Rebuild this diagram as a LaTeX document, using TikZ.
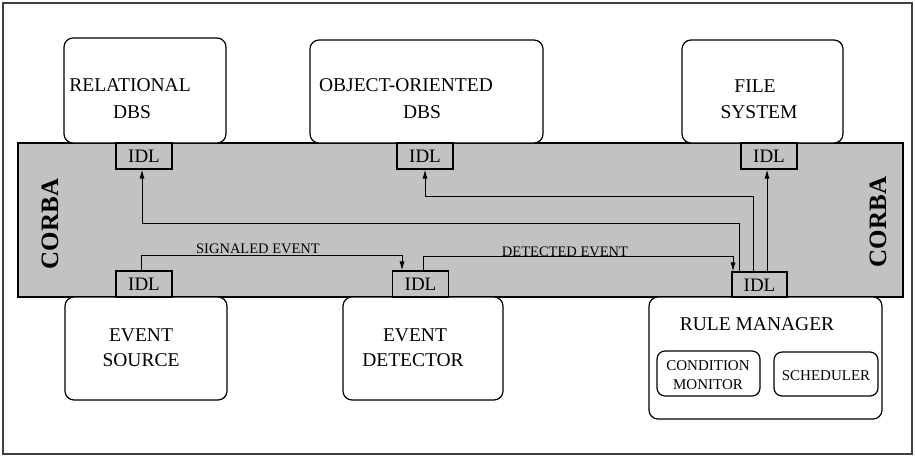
\documentclass[tikz,border=0pt]{standalone}
\usepackage{fontspec}
\setmainfont{Liberation Serif}
\usetikzlibrary{arrows.meta,calc}
\begin{document}
\begin{tikzpicture}[x=1pt,y=-1pt,
  box/.style={draw, line width=1.2pt, rounded corners=9pt, fill=white, inner sep=0pt},
  inbox/.style={draw, line width=1.2pt, rounded corners=8pt, inner sep=0pt},
  idlbox/.style={draw, line width=1.1pt, minimum width=56pt, minimum height=26pt, inner sep=0pt,
     text height=13pt, text depth=0pt, font=\fontsize{19}{21}\selectfont},
  lbl/.style={font=\fontsize{19.5}{21}\selectfont, anchor=base, inner sep=0pt},
  small/.style={font=\fontsize{15}{17}\selectfont, anchor=base, inner sep=0pt},
  evt/.style={font=\fontsize{14.5}{16}\selectfont, anchor=base, inner sep=0pt},
  arr/.style={line width=1pt, -{Latex[length=9pt,width=5pt]}},
  corba/.style={font=\fontsize{25}{27}\bfseries\selectfont, rotate=90, inner sep=0pt}
]
\useasboundingbox (0,0) rectangle (915,456);
% outer frame
\draw[line width=1.2pt, black!75] (3,3) rectangle (912,454);
% CORBA band
\node[draw, line width=1.1pt, fill=black!24, minimum width=885pt, minimum height=154pt, inner sep=0pt] (band) at (460.5,220) {};
\node[corba] (corbaL) at (50,224) {CORBA};
\node[corba] (corbaR) at (878,222) {CORBA};

% top boxes
\node[box, minimum width=162pt, minimum height=105pt] (relbox) at (145,90.5) {};
\node[box, minimum width=233pt, minimum height=103pt] (oobox) at (426.5,91.5) {};
\node[box, minimum width=161pt, minimum height=103pt] (fsbox) at (762.5,91.5) {};
\node[lbl] (t1) at (130,91) {RELATIONAL};
\node[lbl] (t2) at (132,118) {DBS};
\node[lbl] (t3) at (406,91) {OBJECT-ORIENTED};
\node[lbl] (t4) at (422,118) {DBS};
\node[lbl] (t5) at (755,92) {FILE};
\node[lbl] (t6) at (759,118) {SYSTEM};

% bottom boxes
\node[box, minimum width=162pt, minimum height=103pt] (srcbox) at (146,348.5) {};
\node[box, minimum width=160pt, minimum height=103pt] (detbox) at (423,348.5) {};
\node[box, minimum width=233pt, minimum height=122pt] (rmbox) at (765.5,358) {};
\node[lbl] (t7) at (141,341) {EVENT};
\node[lbl] (t8) at (141,366) {SOURCE};
\node[lbl] (t9) at (415,341) {EVENT};
\node[lbl] (t10) at (413,366) {DETECTOR};
\node[lbl] (t11) at (757,330) {RULE MANAGER};
\node[inbox, minimum width=103pt, minimum height=45pt] (cmbox) at (708.5,373.5) {};
\node[inbox, minimum width=104pt, minimum height=44pt] (schbox) at (826,374) {};
\node[small] (t12) at (708,370) {CONDITION};
\node[small] (t13) at (708,389) {MONITOR};
\node[small] (t14) at (826,380) {SCHEDULER};

% IDL boxes
\node[idlbox] (relidl) at (144,156) {IDL};
\node[idlbox] (ooidl) at (425,156) {IDL};
\node[idlbox] (fsidl) at (769,156) {IDL};
\node[idlbox] (srcidl) at (144,284) {IDL};
\node[idlbox] (detidl) at (420.5,284) {IDL};
\node[idlbox, minimum width=55pt, minimum height=25pt] (rmidl) at (759.5,284.5) {IDL};

% connectors
\draw[arr] ([xshift=-3pt]srcidl.north) -- ++(0,-15) -| ([xshift=-18.5pt]detidl.north);
\draw[arr] ([xshift=2.5pt]detidl.north) -- ++(0,-14) -| ([xshift=-26.5pt]rmidl.north);
\draw[arr] ([xshift=-20.5pt]rmidl.north) -- ++(0,-48) -| ([xshift=-2pt]relidl.south);
\draw[arr] ([xshift=-6.5pt]rmidl.north) -- ++(0,-75) -| (ooidl.south);
\draw[arr] ([xshift=7.5pt]rmidl.north) -- ([xshift=-2pt]fsidl.south);

\node[evt] (sig) at (258,253.5) {SIGNALED EVENT};
\node[evt] (dete) at (565,256) {DETECTED EVENT};
\end{tikzpicture}
\end{document}
